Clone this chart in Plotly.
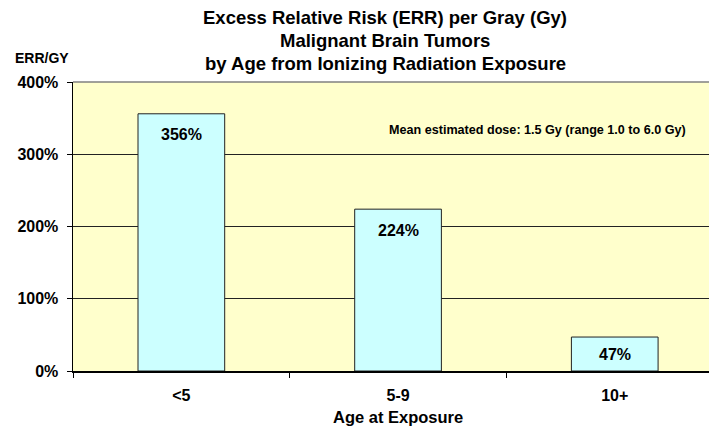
import plotly.graph_objects as go

categories = ["<5", "5-9", "10+"]
err_values = [356, 224, 47]
bar_labels = ["356%", "224%", "47%"]
y_ticks = [0, 100, 200, 300, 400]
y_tick_labels = ["0%", "100%", "200%", "300%", "400%"]
title_lines = [
    "Excess Relative Risk (ERR) per Gray (Gy)",
    "Malignant Brain Tumors",
    "by Age from Ionizing Radiation Exposure",
]
note_text = "Mean estimated dose: 1.5 Gy (range 1.0 to 6.0 Gy)"

FONT = "Liberation Sans, Arial, sans-serif"
W, H = 709, 428
ML, MT, MB, MR = 73, 82, 57, 0
plot_h = H - MT - MB
px_per_unit = plot_h / 400.0

fig = go.Figure()
fig.add_trace(go.Bar(
    x=categories, y=err_values, width=0.4,
    marker=dict(color="#CCFFFF", line=dict(color="#222222", width=1)),
    hoverinfo="skip",
))

annotations = []
for c, v, t in zip(categories, err_values, bar_labels):
    shift = -min(21, v * px_per_unit / 2)
    annotations.append(dict(x=c, y=v, xref="x", yref="y", text=t, showarrow=False,
                            yanchor="middle", yshift=shift,
                            font=dict(family=FONT, size=16, color="black", weight="bold")))

title_y = [18, 40.5, 63]
for line, py in zip(title_lines, title_y):
    annotations.append(dict(x=0.4906, y=1 + (MT - py) / plot_h, xref="paper", yref="paper",
                            text=line, showarrow=False, xanchor="center", yanchor="middle",
                            font=dict(family=FONT, size=18.5, color="black", weight="bold")))

annotations.append(dict(x=-0.0487, y=1 + (MT - 58) / plot_h, xref="paper", yref="paper",
                        text="ERR/GY", showarrow=False, xanchor="center", yanchor="middle",
                        font=dict(family=FONT, size=14, color="black", weight="bold")))
annotations.append(dict(x=0.5105, y=-(417 - (H - MB)) / plot_h, xref="paper", yref="paper",
                        text="Age at Exposure", showarrow=False, xanchor="center", yanchor="middle",
                        font=dict(family=FONT, size=16.5, color="black", weight="bold")))
annotations.append(dict(x=0.7296, y=1 - (130 - MT) / plot_h, xref="paper", yref="paper",
                        text=note_text, showarrow=False, xanchor="center", yanchor="middle",
                        font=dict(family=FONT, size=12.6, color="black", weight="bold")))

fig.update_layout(
    width=W, height=H,
    margin=dict(l=ML, r=MR, t=MT, b=MB, pad=0),
    paper_bgcolor="white", plot_bgcolor="#FFFFCC",
    showlegend=False, hovermode=False,
    font=dict(family=FONT, size=16, color="black", weight="bold"),
    annotations=annotations,
    shapes=[dict(type="line", xref="paper", yref="paper", x0=0, x1=1, y0=1, y1=1,
                 line=dict(color="#808080", width=1.5), layer="above")],
    xaxis=dict(
        type="category", range=[-0.5, 2.435],
        showline=True, linecolor="black", linewidth=1.5,
        ticks="outside", tickson="boundaries", ticklen=5, tickcolor="black",
        showgrid=False, ticklabelstandoff=9,
        tickfont=dict(family=FONT, size=16, color="black", weight="bold"),
    ),
    yaxis=dict(
        range=[0, 400], tickvals=y_ticks, ticktext=y_tick_labels,
        showline=True, linecolor="black", linewidth=1.5,
        ticks="outside", ticklen=5, tickcolor="black",
        showgrid=True, gridcolor="#222222", gridwidth=1, zeroline=False,
        ticklabelstandoff=5,
        tickfont=dict(family=FONT, size=16, color="black", weight="bold"),
    ),
)

fig.write_html(
    "out.html",
    config={"displayModeBar": False, "staticPlot": True},
    post_script="document.body.style.margin='0';document.body.style.padding='0';",
)
